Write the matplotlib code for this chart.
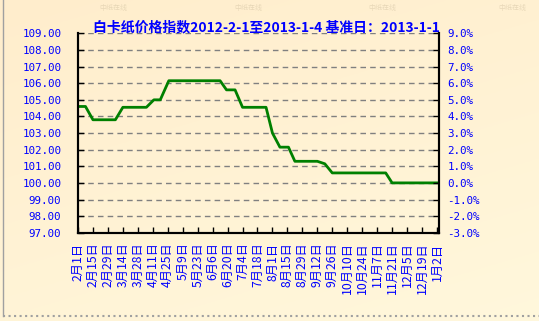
import numpy as np
import pandas as pd
import matplotlib
matplotlib.use("Agg")
import matplotlib.pyplot as plt

plt.rcParams['font.family'] = ['Noto Sans CJK SC', 'DejaVu Sans']

# breakpoints of the index line
dates = ["2012-02-01", "2012-02-08", "2012-02-15", "2012-03-07", "2012-03-14",
         "2012-04-05", "2012-04-12", "2012-04-18", "2012-04-26", "2012-06-13",
         "2012-06-19", "2012-06-27", "2012-07-04", "2012-07-26", "2012-08-01",
         "2012-08-08", "2012-08-16", "2012-08-22", "2012-09-12", "2012-09-19",
         "2012-09-26", "2012-11-15", "2012-11-21", "2013-01-04"]
index = [104.6, 104.6, 103.8, 103.8, 104.55,
         104.55, 105.0, 105.0, 106.15, 106.15,
         105.6, 105.6, 104.55, 104.55, 103.0,
         102.15, 102.15, 101.3, 101.3, 101.15,
         100.6, 100.6, 100.0, 100.0]

tick_dates = pd.date_range("2012-02-01", periods=25, freq="14D")
tick_labels = [f"{d.month}月{d.day}日" for d in tick_dates]
left_ticks = [97, 98, 99, 100, 101, 102, 103, 104, 105, 106, 107, 108, 109]
right_labels = ["-3.0%", "-2.0%", "-1.0%", "0.0%", "1.0%", "2.0%", "3.0%",
                "4.0%", "5.0%", "6.0%", "7.0%", "8.0%", "9.0%"]
title = "白卡纸价格指数2012-2-1至2013-1-4 基准日：2013-1-1"

blue = "#0000ff"
fig = plt.figure(figsize=(5.39, 3.21), dpi=100)

# background gradient (light yellow, a bit warmer at the top)
bg = fig.add_axes([0, 0, 1, 1])
gy, gx = np.mgrid[0:1:200j, 0:1:300j]
t = np.clip(0.6 * gy + 0.3 * gx, 0, 1)
top = np.array([1.0, 0.93, 0.80])
bot = np.array([1.0, 0.975, 0.87])
img = top[None, None, :] * (1 - t[..., None]) + bot[None, None, :] * t[..., None]
bg.imshow(img, aspect="auto", extent=[0, 1, 0, 1], origin="upper")
bg.axis("off")
# faint watermarks along the top
for xx in [0.21, 0.46, 0.71, 0.95]:
    bg.text(xx, 0.975, "中纸在线", fontsize=5, color="#d8c8a8", alpha=0.6, ha="center", va="center")
# border lines
bg.plot([0.005, 0.005], [0.015, 1], color="#a0a0a0", lw=1)
bg.plot([0.005, 1], [0.015, 0.015], color="#a0a0a0", lw=1.5, ls=":")
bg.set_xlim(0, 1); bg.set_ylim(0, 1)

ax = fig.add_axes([0.1447, 0.275, 0.67, 0.621])
ax.patch.set_alpha(0)
x = pd.to_datetime(dates)
ax.plot(x, index, color="#008000", lw=2)

ax.set_ylim(97, 109)
ax.set_yticks(left_ticks)
ax.set_yticklabels([f"{v:.2f}" for v in left_ticks], family="DejaVu Sans Mono",
                   fontsize=7.8, color=blue)
for v in left_ticks[1:]:
    ax.axhline(v, color="#808080", lw=1, ls=(0, (4, 3)), zorder=0)

ax.set_xlim(pd.Timestamp("2012-02-01"), pd.Timestamp("2013-01-04"))
ax.set_xticks(tick_dates)
ax.set_xticklabels(tick_labels, rotation=90, fontsize=8.8, color=blue, va="top")
ax.tick_params(direction="in", length=4, width=1)
ax.tick_params(axis="x", pad=7)
ax.tick_params(axis="y", pad=12)

ay = ax.twinx()
ay.set_ylim(97, 109)
ay.set_yticks(left_ticks)
ay.set_yticklabels(right_labels, family="DejaVu Sans Mono", fontsize=7.8, color=blue)
ay.tick_params(direction="in", length=4, width=1, pad=6)

for a in (ax, ay):
    a.spines["top"].set_visible(False)
    for s in ("left", "right", "bottom"):
        a.spines[s].set_linewidth(1.5)

fig.text(0.494, 0.915, title, fontsize=10, fontweight="bold", color=blue,
         ha="center", va="center")

fig.savefig("out.png", dpi=100)
